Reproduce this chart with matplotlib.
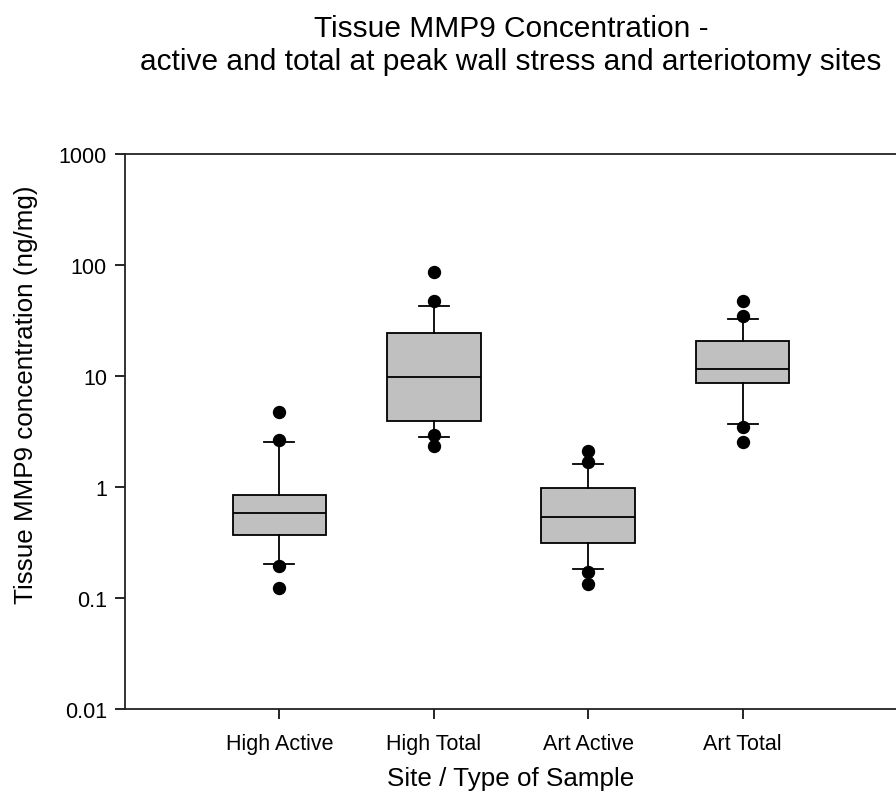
import matplotlib
matplotlib.use("Agg")
import matplotlib.pyplot as plt

plt.rcParams['font.family'] = ['Liberation Sans', 'DejaVu Sans']

# sample groups
groups = ['High Active', 'High Total', 'Art Active', 'Art Total']

# box statistics (ng/mg): 10th / 25th / median / 75th / 90th percentile
p10 = [0.202, 2.83, 0.181, 3.68]
q1 = [0.372, 3.94, 0.315, 8.61]
med = [0.582, 9.82, 0.532, 11.45]
q3 = [0.851, 24.3, 0.970, 20.6]
p90 = [2.52, 42.8, 1.61, 32.5]

# points outside the whiskers
outliers = [
    [0.123, 0.195, 2.66, 4.69],
    [2.32, 2.95, 46.9, 85.5],
    [0.1335, 0.170, 1.66, 2.09],
    [2.55, 3.44, 34.8, 47.5],
]

stats = []
for i, name in enumerate(groups):
    stats.append({
        'label': name,
        'whislo': p10[i], 'q1': q1[i], 'med': med[i],
        'q3': q3[i], 'whishi': p90[i],
        'fliers': outliers[i],
    })

W, H = 896, 803
fig = plt.figure(figsize=(W / 100, H / 100), dpi=100)
ax = fig.add_axes([125 / W, (H - 710) / H, 772 / W, (710 - 154.7) / H])

pos = [1, 2, 3, 4]
ax.bxp(stats, positions=pos, widths=0.605, capwidths=0.194,
       patch_artist=True,
       boxprops=dict(facecolor='#c0c0c0', edgecolor='black', linewidth=1.3),
       medianprops=dict(color='black', linewidth=1.3),
       whiskerprops=dict(color='black', linewidth=1.3),
       capprops=dict(color='black', linewidth=1.3),
       flierprops=dict(marker='o', markerfacecolor='black', markeredgecolor='black',
                       markersize=8.6, linestyle='none'))

ax.set_yscale('log')
ax.set_ylim(0.01, 1000)
ax.set_xlim(0, 5)
ax.set_yticks([0.01, 0.1, 1, 10, 100, 1000])
ax.set_yticklabels(['0.01', '0.1', '1', '10', '100', '1000'])
ax.yaxis.set_minor_locator(matplotlib.ticker.NullLocator())
ax.set_xticks(pos)
ax.set_xticklabels(groups)

ax.tick_params(axis='y', labelsize=15.5, length=7, width=1.2, direction='out', pad=6)
ax.tick_params(axis='x', labelsize=15.5, length=7, width=1.2, direction='out', pad=10)

for s in ['left', 'bottom', 'top']:
    ax.spines[s].set_linewidth(1.3)
    ax.spines[s].set_color('#222222')
ax.spines['right'].set_visible(False)

ax.set_xlabel('Site / Type of Sample', fontsize=18.7)
ax.xaxis.set_label_coords(511 / W, 1 - 779 / H, transform=fig.transFigure)
ax.xaxis.label.set_verticalalignment('center')
ax.set_ylabel('Tissue MMP9 concentration (ng/mg)', fontsize=18.7)
ax.yaxis.set_label_coords(26 / W, 1 - 395 / H, transform=fig.transFigure)
ax.yaxis.label.set_verticalalignment('center')

# two-line title, one text per line
fig.text(511 / W, 1 - 37 / H, 'Tissue MMP9 Concentration -',
         ha='center', va='baseline', fontsize=21.5)
fig.text(511 / W, 1 - 70 / H,
         'active and total at peak wall stress and arteriotomy sites',
         ha='center', va='baseline', fontsize=21.5)

fig.savefig('out.png', dpi=100)
